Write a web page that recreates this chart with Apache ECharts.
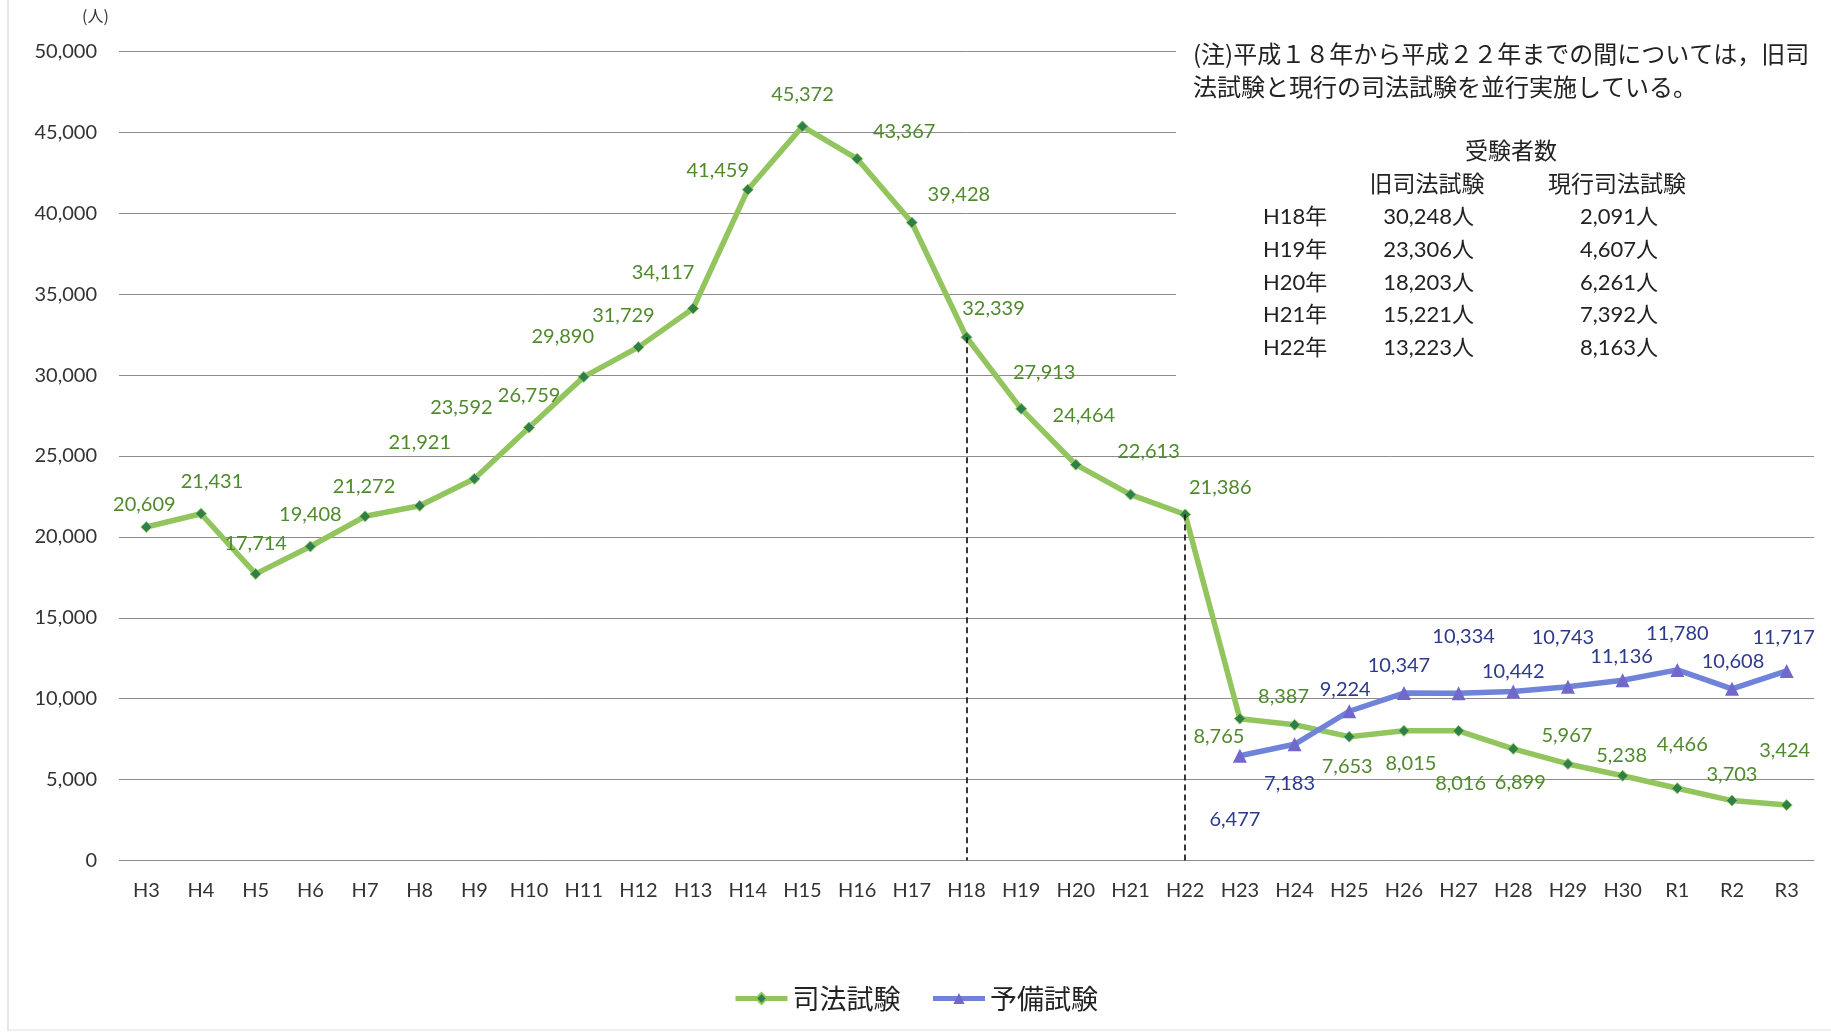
<!DOCTYPE html>
<html>
<head><meta charset="utf-8"></head>
<script type="text/javascript" src="https://cdn.jsdelivr.net/npm/echarts@6/dist/echarts.min.js"></script>
<body style="margin:0;background-color:#fff;">
    <div id="main" style="width:1831px;height:1033px;"></div>
</body>
<script type="text/javascript">
// 年度
var years = ['H3','H4','H5','H6','H7','H8','H9','H10','H11','H12','H13','H14','H15','H16','H17',
    'H18','H19','H20','H21','H22','H23','H24','H25','H26','H27','H28','H29','H30','R1','R2','R3'];
// 司法試験 受験者数
var shihou = [20609,21431,17714,19408,21272,21921,23592,26759,29890,31729,34117,41459,45372,43367,39428,
    32339,27913,24464,22613,21386,8765,8387,7653,8015,8016,6899,5967,5238,4466,3703,3424];
// 予備試験 受験者数 (H23から)
var yobi = [null,null,null,null,null,null,null,null,null,null,null,null,null,null,null,
    null,null,null,null,null,6477,7183,9224,10347,10334,10442,10743,11136,11780,10608,11717];
var yTicks = [0,5000,10000,15000,20000,25000,30000,35000,40000,45000,50000];
// 注記の表
var tblYears = ['H18年','H19年','H20年','H21年','H22年'];
var tblOld = ['30,248人','23,306人','18,203人','15,221人','13,223人'];
var tblNew = ['2,091人','4,607人','6,261人','7,392人','8,163人'];

// ラベルのずらし量 (px)
var greenShift = [[-2,-22],[11,-32],[0,-30],[0,-32],[-1,-30],[0,-63],[-13,-71],[0,-32],[-21,-40],[-15,-32],
    [-30,-36],[-30,-19],[0,-32],[47,-27],[47,-28],[27,-29],[23,-36],[8,-49],[18,-43],[35,-27],
    [-21,18],[-11,-28],[-2,30],[7,33],[2,53],[7,34],[-1,-28],[-1,-20],[5,-44],[0,-26],[-2,-55]];
var blueShift = {20:[-5,64],21:[-5,39],22:[-4,-22],23:[-5,-28],24:[5,-57],25:[0,-20],26:[-5,-49],
    27:[-1,-24],28:[0,-36],29:[1,-27],30:[-3,-33]};

var numFont = 'Lato, "Noto Sans CJK JP", sans-serif';
var jpFont = '"Noto Sans CJK JP", sans-serif';

function fmt(v){ return Number(v).toLocaleString('en-US'); }

var greenData = shihou.map(function(v,i){
    return {value:v, label:{offset:greenShift[i]}};
});
var blueData = yobi.map(function(v,i){
    if(v===null) return null;
    return {value:v, label:{offset:blueShift[i]}};
});

var graphics = [
    {type:'text', left:82, top:8, style:{text:'(人)', font:'16px '+jpFont, fill:'#333'}},
    {type:'rect', shape:{x:1176, y:28, width:655, height:395}, style:{fill:'#fff'}, z:1},
    {type:'text', x:1193, y:54, z:3, style:{text:'(注)平成１８年から平成２２年までの間については，旧司', font:'24px '+jpFont, fill:'#222', verticalAlign:'middle'}},
    {type:'text', x:1193, y:87, z:3, style:{text:'法試験と現行の司法試験を並行実施している。', font:'24px '+jpFont, fill:'#222', verticalAlign:'middle'}},
    {type:'text', x:1511, y:150, z:3, style:{text:'受験者数', font:'23px '+jpFont, fill:'#222', align:'center', verticalAlign:'middle'}},
    {type:'text', x:1427, y:183, z:3, style:{text:'旧司法試験', font:'23px '+jpFont, fill:'#222', align:'center', verticalAlign:'middle'}},
    {type:'text', x:1617, y:183, z:3, style:{text:'現行司法試験', font:'23px '+jpFont, fill:'#222', align:'center', verticalAlign:'middle'}},
    {type:'line', shape:{x1:8, y1:0, x2:8, y2:1031}, style:{stroke:'#d0d0d0', lineWidth:1}},
    {type:'line', shape:{x1:8, y1:1030, x2:1831, y2:1030}, style:{stroke:'#e0e0e0', lineWidth:1}}
];
for(var r=0;r<tblYears.length;r++){
    var ty = 217 + r*32.8;
    graphics.push({type:'text', x:1263, y:ty, z:3, style:{text:tblYears[r], font:'22px '+numFont, fill:'#222', verticalAlign:'middle'}});
    graphics.push({type:'text', x:1474, y:ty, z:3, style:{text:tblOld[r], font:'22px '+numFont, fill:'#222', align:'right', verticalAlign:'middle'}});
    graphics.push({type:'text', x:1658, y:ty, z:3, style:{text:tblNew[r], font:'22px '+numFont, fill:'#222', align:'right', verticalAlign:'middle'}});
}

var myChart = echarts.init(document.getElementById('main'));
var option = {
    animation:false,
    backgroundColor:'#fff',
    grid:{left:119, right:17, top:51.5, bottom:172.5},
    legend:{
        bottom:16, left:'center',
        itemWidth:52, itemHeight:14, itemGap:30,
        lineStyle:{width:5},
        textStyle:{fontSize:27, fontFamily:jpFont, color:'#222'},
        data:['司法試験','予備試験']
    },
    xAxis:{
        type:'category', data:years, boundaryGap:true,
        axisLine:{show:false}, axisTick:{show:false},
        axisLabel:{fontSize:20, fontFamily:numFont, color:'#333', margin:20}
    },
    yAxis:{
        type:'value', min:yTicks[0], max:yTicks[yTicks.length-1], interval:5000,
        axisLine:{show:false}, axisTick:{show:false},
        axisLabel:{fontSize:20, fontFamily:numFont, color:'#333', margin:22, formatter:function(v){return fmt(v);}},
        splitLine:{lineStyle:{color:'#8c8c8c', width:1}}
    },
    graphic:graphics,
    series:[
        {
            name:'司法試験', type:'line', data:greenData, z:4,
            symbol:'diamond', symbolSize:11,
            lineStyle:{color:'#93c55f', width:5.5},
            itemStyle:{color:'#2f7f4a', borderColor:'#93c55f', borderWidth:1},
            label:{show:true, position:'inside', fontSize:20, fontFamily:numFont, color:'#4f8a2c',
                formatter:function(p){return fmt(p.value);}},
            markLine:{
                silent:true, symbol:['none','none'],
                label:{show:false},
                lineStyle:{color:'#222', type:[6,4], width:1.8},
                data:[
                    [{coord:[15, shihou[15]]},{coord:[15, 0]}],
                    [{coord:[19, shihou[19]]},{coord:[19, 0]}]
                ]
            }
        },
        {
            name:'予備試験', type:'line', data:blueData, z:5,
            symbol:'triangle', symbolSize:14,
            lineStyle:{color:'#6f84d8', width:5.5},
            itemStyle:{color:'#7268cc'},
            label:{show:true, position:'inside', fontSize:20, fontFamily:numFont, color:'#2c3a8c',
                formatter:function(p){return fmt(p.value);}}
        }
    ]
};
myChart.setOption(option);
</script>
</html>
